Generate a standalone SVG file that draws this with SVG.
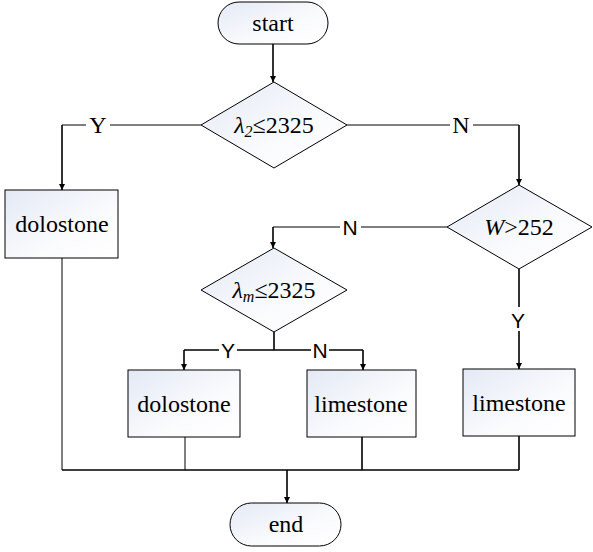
<svg xmlns="http://www.w3.org/2000/svg" width="593" height="552" viewBox="0 0 593 552">
<defs>
<linearGradient id="g" x1="0" y1="0" x2="1" y2="1">
<stop offset="0" stop-color="#e3e9f5"/>
<stop offset="0.6" stop-color="#fafbfd"/>
<stop offset="1" stop-color="#ffffff"/>
</linearGradient>
<marker id="a" viewBox="0 0 10 10" refX="10" refY="5" markerWidth="6" markerHeight="6" markerUnits="userSpaceOnUse" orient="auto">
<path d="M0,0 L10,5 L0,10 z" fill="#000"/>
</marker>
</defs>
<style>
.n{fill:url(#g);stroke:#000;stroke-width:1}
.t{font-family:'Liberation Serif','Times New Roman',serif;font-size:24px;text-anchor:middle;fill:#000}
.s{font-family:'Liberation Sans',Arial,sans-serif;font-size:21px;text-anchor:middle;fill:#000}
.c{fill:none;stroke:#000;stroke-width:1.6}
.c1{fill:none;stroke:#000;stroke-width:1}
.bg{fill:#fff}
</style>
<rect width="593" height="552" fill="#fff"/>
<g id="connectors">
<path class="c" d="M273,44 V82" marker-end="url(#a)"/>
<path class="c1" d="M201,125 H62"/>
<path class="c" d="M62,125 V190" marker-end="url(#a)"/>
<path class="c1" d="M347,125 H519"/>
<path class="c" d="M519,125 V185" marker-end="url(#a)"/>
<path class="c1" d="M447,227 H273"/>
<path class="c" d="M273,227 V248" marker-end="url(#a)"/>
<path class="c" d="M274,332 V350 M184,350 H363"/>
<path class="c" d="M184,350 V370" marker-end="url(#a)"/>
<path class="c" d="M363,350 V370" marker-end="url(#a)"/>
<path class="c" d="M519,269 V369" marker-end="url(#a)"/>
<path class="c1" d="M62,258 V470 M185,437 V470"/>
<path class="c" d="M62,470 H519 M362,437 V470 M519,436 V470"/>
<path class="c" d="M287,470 V503" marker-end="url(#a)"/>
<rect class="bg" x="86" y="112" width="24" height="26"/>
<text class="t" x="98" y="133">Y</text>
<rect class="bg" x="450" y="112" width="23" height="26"/>
<text class="t" x="461" y="133">N</text>
<rect class="bg" x="340" y="215" width="21" height="24"/>
<text class="s" x="350" y="235">N</text>
<rect class="bg" x="219" y="339" width="18" height="22"/>
<text class="s" x="228" y="358">Y</text>
<rect class="bg" x="311" y="339" width="18" height="22"/>
<text class="s" x="320" y="358">N</text>
<rect class="bg" x="509" y="307" width="18" height="24"/>
<text class="s" x="518" y="328">Y</text>
</g>
<g id="start">
<rect class="n" x="218" y="2" width="110" height="42" rx="21" ry="21"/>
<text class="t" x="273" y="31">start</text>
</g>
<g id="d1">
<polygon class="n" points="274,82 347,125 274,168 201,125"/>
<text class="t" x="274" y="133"><tspan font-style="italic">λ</tspan><tspan font-style="italic" font-size="16px" dy="4">2</tspan><tspan dy="-4">≤2325</tspan></text>
</g>
<g id="box1">
<rect class="n" x="5" y="190" width="113" height="68"/>
<text class="t" x="62" y="232">dolostone</text>
</g>
<g id="d2">
<polygon class="n" points="519,185 592,227 519,269 447,227"/>
<text class="t" x="519" y="235"><tspan font-style="italic">W</tspan>&gt;252</text>
</g>
<g id="d3">
<polygon class="n" points="274,248 347,290 274,332 201,290"/>
<text class="t" x="274" y="298"><tspan font-style="italic">λ</tspan><tspan font-style="italic" font-size="16px" dy="4">m</tspan><tspan dy="-4">≤2325</tspan></text>
</g>
<g id="box2">
<rect class="n" x="128" y="370" width="112" height="67"/>
<text class="t" x="184" y="412">dolostone</text>
</g>
<g id="box3">
<rect class="n" x="307" y="370" width="109" height="67"/>
<text class="t" x="361" y="412">limestone</text>
</g>
<g id="box4">
<rect class="n" x="463" y="369" width="112" height="67"/>
<text class="t" x="519" y="411">limestone</text>
</g>
<g id="end">
<rect class="n" x="230" y="503" width="111" height="43" rx="21.5" ry="21.5"/>
<text class="t" x="286" y="532">end</text>
</g>
</svg>
